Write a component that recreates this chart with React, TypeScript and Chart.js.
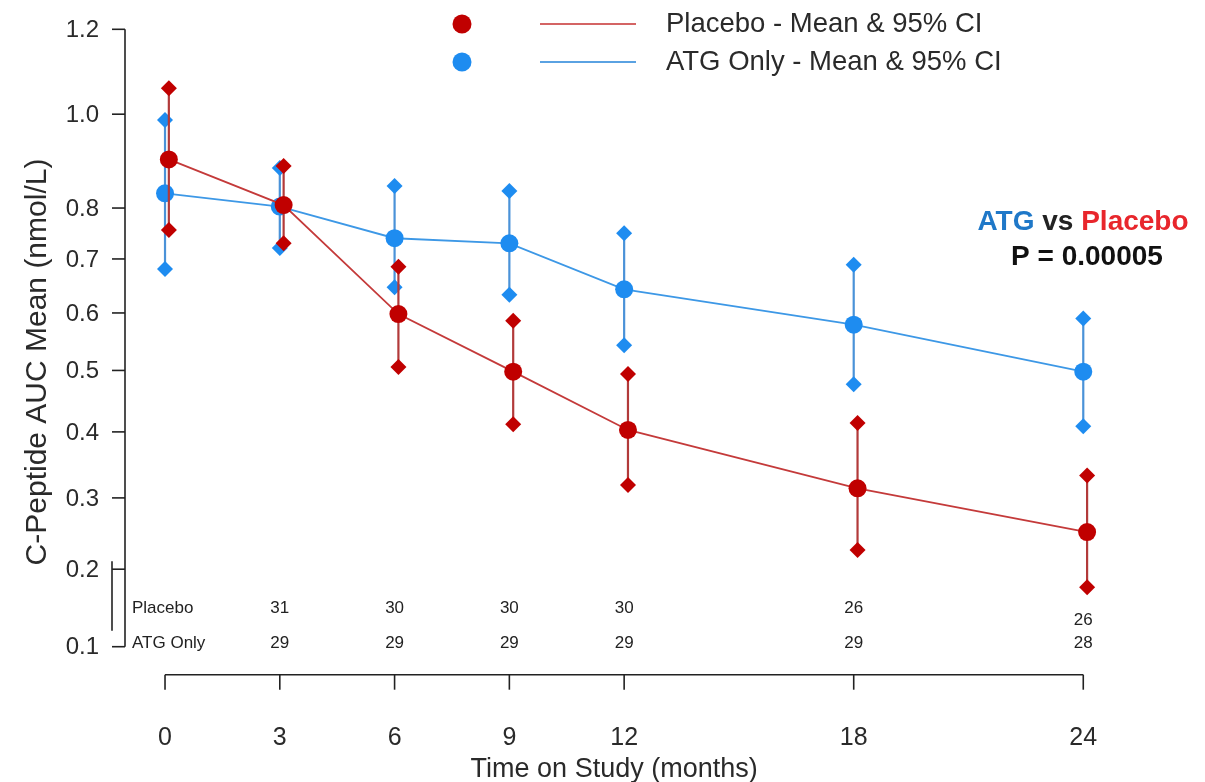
import React, { useEffect, useRef } from 'react';
import { Chart, registerables, LinearScale } from 'chart.js';

Chart.register(...registerables);

// Custom y scale: log(value + 1) spacing
class Log1pScale extends LinearScale {
  static id = 'log1p';
  getPixelForValue(value: number) {
    const a = Math.log1p(this.min);
    const b = Math.log1p(this.max);
    return this.getPixelForDecimal((Math.log1p(value) - a) / (b - a));
  }
  getValueForPixel(pixel: number) {
    const a = Math.log1p(this.min);
    const b = Math.log1p(this.max);
    return Math.expm1(a + this.getDecimalForPixel(pixel) * (b - a));
  }
}
Chart.register(Log1pScale as any);

// ---------------- DATA ----------------
const months = [0, 3, 6, 9, 12, 18, 24];

const placeboMean = [0.901, 0.806, 0.598, 0.498, 0.403, 0.314, 0.251];
const placeboLower = [0.756, 0.730, 0.506, 0.412, 0.319, 0.226, 0.176];
const placeboUpper = [1.059, 0.887, 0.685, 0.586, 0.494, 0.414, 0.333];

const atgMean = [0.830, 0.803, 0.740, 0.730, 0.643, 0.579, 0.498];
const atgLower = [0.681, 0.721, 0.647, 0.633, 0.543, 0.477, 0.409];
const atgUpper = [0.987, 0.883, 0.845, 0.835, 0.750, 0.689, 0.590];

const yTicks = [0.1, 0.2, 0.3, 0.4, 0.5, 0.6, 0.7, 0.8, 1.0, 1.2];
const yTickLabels = ['0.1', '0.2', '0.3', '0.4', '0.5', '0.6', '0.7', '0.8', '1.0', '1.2'];
const xTicks = [0, 3, 6, 9, 12, 18, 24];
const xTickLabels = ['0', '3', '6', '9', '12', '18', '24'];

const tableMonths = [3, 6, 9, 12, 18, 24];
const placeboN = ['31', '30', '30', '30', '26', '26'];
const atgN = ['29', '29', '29', '29', '29', '28'];

const seriesNames = ['Placebo - Mean & 95% CI', 'ATG Only - Mean & 95% CI'];
const yTitle = 'C-Peptide AUC Mean (nmol/L)';
const xTitle = 'Time on Study (months)';
const pValueText = 'P = 0.00005';

// ---------------- STYLE ----------------
const RED = '#c00000';
const RED_LINE = '#c43a3a';
const RED_CI = '#b23a3a';
const BLUE = '#1e8cf0';
const BLUE_LINE = '#3d98e6';
const BLUE_CI = '#4a92d8';
const FONT = '"Liberation Sans", Arial, Helvetica, sans-serif';

const RED_OFFSET = 0.1;

function ciData(lo: number[], hi: number[], off: number) {
  const out: any[] = [];
  months.forEach((m, i) => {
    out.push({ x: m + off, y: lo[i] });
    out.push({ x: m + off, y: hi[i] });
    out.push({ x: m + off, y: null });
  });
  return out;
}

function diamondData(lo: number[], hi: number[], off: number) {
  const out: any[] = [];
  months.forEach((m, i) => {
    out.push({ x: m + off, y: lo[i] });
    out.push({ x: m + off, y: hi[i] });
  });
  return out;
}

const decorPlugin = {
  id: 'decor',
  afterDraw(chart: any) {
    const ctx: CanvasRenderingContext2D = chart.ctx;
    const xs = chart.scales.x;
    const ys = chart.scales.y;
    const area = chart.chartArea;
    ctx.save();

    const line = (x1: number, y1: number, x2: number, y2: number) => {
      ctx.beginPath();
      ctx.moveTo(x1, y1);
      ctx.lineTo(x2, y2);
      ctx.stroke();
    };

    ctx.strokeStyle = '#222';
    ctx.lineWidth = 1.6;
    ctx.fillStyle = '#2a2a2a';

    // ---- Y axis ----
    const yAxisX = area.left;
    const yTop = ys.getPixelForValue(yTicks[yTicks.length - 1]);
    const yBot = ys.getPixelForValue(yTicks[0]);
    line(yAxisX, yTop, yAxisX, yBot);
    ctx.font = `24px ${FONT}`;
    ctx.textAlign = 'right';
    ctx.textBaseline = 'middle';
    yTicks.forEach((t, i) => {
      const py = ys.getPixelForValue(t);
      line(yAxisX - 13, py, yAxisX, py);
      ctx.fillText(yTickLabels[i], yAxisX - 26, py + 1);
    });
    // axis break bracket
    const p2 = ys.getPixelForValue(yTicks[1]);
    const p1 = ys.getPixelForValue(yTicks[0]);
    line(yAxisX - 13, p2 - 8, yAxisX - 13, p1 - 16);

    // ---- Y title ----
    ctx.save();
    ctx.translate(38, 362);
    ctx.rotate(-Math.PI / 2);
    ctx.font = `30px ${FONT}`;
    ctx.textAlign = 'center';
    ctx.textBaseline = 'middle';
    ctx.fillText(yTitle, 0, 0);
    ctx.restore();

    // ---- X axis ----
    const xAxisY = yBot + 28;
    const x0 = xs.getPixelForValue(xTicks[0]);
    const x1 = xs.getPixelForValue(xTicks[xTicks.length - 1]);
    line(x0, xAxisY, x1, xAxisY);
    ctx.font = `25px ${FONT}`;
    ctx.textAlign = 'center';
    ctx.textBaseline = 'middle';
    xTicks.forEach((t, i) => {
      const px = xs.getPixelForValue(t);
      line(px, xAxisY, px, xAxisY + 15);
      ctx.fillText(xTickLabels[i], px, xAxisY + 63);
    });
    ctx.font = `27px ${FONT}`;
    ctx.fillText(xTitle, (x0 + x1) / 2 - 10, xAxisY + 95);

    // ---- N table ----
    ctx.font = `17px ${FONT}`;
    ctx.textAlign = 'left';
    ctx.fillStyle = '#222';
    ctx.fillText('Placebo', 132, 608);
    ctx.fillText('ATG Only', 132, 643);
    ctx.textAlign = 'center';
    tableMonths.forEach((m, i) => {
      const px = xs.getPixelForValue(m);
      const py = i === tableMonths.length - 1 ? 620 : 608;
      ctx.fillText(placeboN[i], px, py);
      ctx.fillText(atgN[i], px, 643);
    });

    // ---- Legend ----
    const legendRows = [
      { y: 24, dot: RED, line: '#d46464', label: seriesNames[0] },
      { y: 62, dot: BLUE, line: '#5aa2e2', label: seriesNames[1] },
    ];
    legendRows.forEach((r) => {
      ctx.fillStyle = r.dot;
      ctx.beginPath();
      ctx.arc(462, r.y, 9.5, 0, Math.PI * 2);
      ctx.fill();
      ctx.strokeStyle = r.line;
      ctx.lineWidth = 2;
      line(540, r.y, 636, r.y);
      ctx.fillStyle = '#2a2a2a';
      ctx.font = `27.5px ${FONT}`;
      ctx.textAlign = 'left';
      ctx.textBaseline = 'middle';
      ctx.fillText(r.label, 666, r.y);
    });

    // ---- Annotation ----
    ctx.font = `bold 28px ${FONT}`;
    ctx.textBaseline = 'middle';
    ctx.textAlign = 'left';
    const parts = [
      { t: 'ATG', c: '#1f78c8' },
      { t: ' vs ', c: '#222' },
      { t: 'Placebo', c: '#e8262c' },
    ];
    const total = parts.reduce((s, p) => s + ctx.measureText(p.t).width, 0);
    let cx = 1083 - total / 2;
    parts.forEach((p) => {
      ctx.fillStyle = p.c;
      ctx.fillText(p.t, cx, 222);
      cx += ctx.measureText(p.t).width;
    });
    ctx.fillStyle = '#111';
    ctx.textAlign = 'center';
    ctx.fillText(pValueText, 1087, 257);

    ctx.restore();
  },
};

export default function App() {
  const ref = useRef<HTMLCanvasElement | null>(null);

  useEffect(() => {
    if (!ref.current) return;
    const chart = new Chart(ref.current, {
      type: 'line',
      data: {
        datasets: [
          {
            label: 'Placebo mean',
            data: months.map((m, i) => ({ x: m + RED_OFFSET, y: placeboMean[i] })),
            borderColor: RED_LINE,
            borderWidth: 1.8,
            pointStyle: 'circle',
            pointRadius: 9,
            pointBackgroundColor: RED,
            pointBorderColor: RED,
            pointBorderWidth: 0,
            order: 1,
            clip: false,
          },
          {
            label: 'Placebo CI ends',
            data: diamondData(placeboLower, placeboUpper, RED_OFFSET),
            showLine: false,
            pointStyle: 'rectRot',
            pointRadius: 8,
            pointBackgroundColor: RED,
            pointBorderColor: RED,
            pointBorderWidth: 0,
            order: 2,
            clip: false,
          },
          {
            label: 'Placebo CI',
            data: ciData(placeboLower, placeboUpper, RED_OFFSET),
            borderColor: RED_CI,
            borderWidth: 2.2,
            pointRadius: 0,
            spanGaps: false,
            order: 3,
            clip: false,
          },
          {
            label: 'ATG mean',
            data: months.map((m, i) => ({ x: m, y: atgMean[i] })),
            borderColor: BLUE_LINE,
            borderWidth: 1.8,
            pointStyle: 'circle',
            pointRadius: 9,
            pointBackgroundColor: BLUE,
            pointBorderColor: BLUE,
            pointBorderWidth: 0,
            order: 4,
            clip: false,
          },
          {
            label: 'ATG CI ends',
            data: diamondData(atgLower, atgUpper, 0),
            showLine: false,
            pointStyle: 'rectRot',
            pointRadius: 8,
            pointBackgroundColor: BLUE,
            pointBorderColor: BLUE,
            pointBorderWidth: 0,
            order: 5,
            clip: false,
          },
          {
            label: 'ATG CI',
            data: ciData(atgLower, atgUpper, 0),
            borderColor: BLUE_CI,
            borderWidth: 2.2,
            pointRadius: 0,
            spanGaps: false,
            order: 6,
            clip: false,
          },
        ] as any,
      },
      options: {
        responsive: false,
        animation: false,
        events: [],
        layout: { padding: { left: 125, right: 85, top: 29.3, bottom: 135.3 } },
        plugins: { legend: { display: false }, tooltip: { enabled: false } },
        scales: {
          x: { type: 'linear', min: -1.046, max: 24.96, display: false },
          y: {
            type: 'log1p' as any,
            min: 0.1,
            max: 1.2,
            display: false,
            afterBuildTicks: (s: any) => {
              s.ticks = yTicks.map((v) => ({ value: v }));
            },
          },
        },
      },
      plugins: [decorPlugin],
    });
    return () => chart.destroy();
  }, []);

  return (
    <div style={{ position: 'fixed', left: 0, top: 0, width: 1205, height: 782, background: '#fff' }}>
      <canvas ref={ref} width={1205} height={782} style={{ width: 1205, height: 782 }} />
    </div>
  );
}
